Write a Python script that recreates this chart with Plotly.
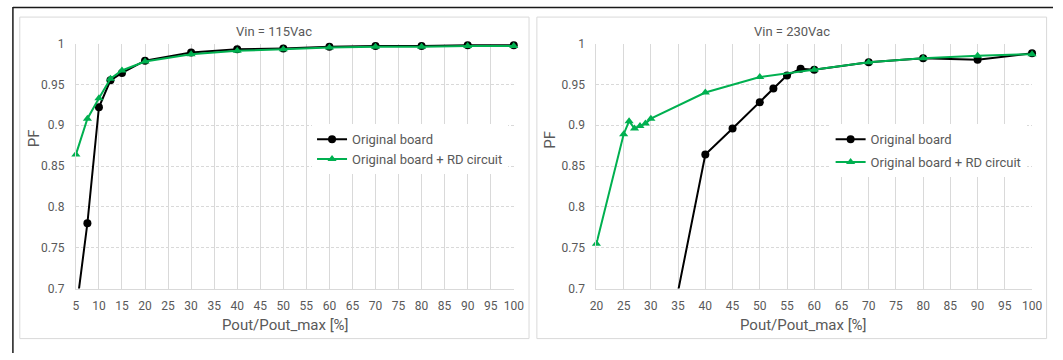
import plotly.graph_objects as go

# ---------------- data ----------------
x115_orig = [5, 7.5, 10, 12.5, 15, 20, 30, 40, 50, 60, 70, 80, 90, 100]
pf115_orig = [0.67, 0.78, 0.922, 0.955, 0.964, 0.979, 0.989, 0.993, 0.994, 0.996, 0.997, 0.997, 0.998, 0.998]
x115_rd = [5, 7.5, 10, 12.5, 15, 20, 30, 40, 50, 60, 70, 80, 90, 100]
pf115_rd = [0.864, 0.908, 0.933, 0.957, 0.967, 0.978, 0.987, 0.991, 0.993, 0.995, 0.996, 0.996, 0.997, 0.997]

x230_orig = [30, 40, 45, 50, 52.5, 55, 57.5, 60, 70, 80, 90, 100]
pf230_orig = [0.53, 0.864, 0.896, 0.928, 0.945, 0.961, 0.969, 0.968, 0.977, 0.982, 0.980, 0.988]
x230_rd = [20, 25, 26, 27, 28, 29, 30, 40, 50, 60, 70, 80, 90, 100]
pf230_rd = [0.755, 0.889, 0.905, 0.896, 0.899, 0.902, 0.908, 0.940, 0.959, 0.968, 0.977, 0.982, 0.985, 0.987]

series_names = ["Original board", "Original board + RD circuit"]
panel_titles = ["Vin = 115Vac", "Vin = 230Vac"]
x_title = "Pout/Pout_max [%]"
y_title = "PF"
y_tickvals = [0.7, 0.75, 0.8, 0.85, 0.9, 0.95, 1.0]
y_ticktext = ["0.7", "0.75", "0.8", "0.85", "0.9", "0.95", "1"]

# ---------------- styling ----------------
W, H = 1063, 360
FONT = "Roboto"
TXT = "#595959"
GRID = "#D9D9D9"
GREEN = "#00B050"


def fx(p):
    return p / W


def fy(p):
    return 1 - p / H


fig = go.Figure()


def add_pair(xo, yo, xr, yr, xa, ya, leg):
    fig.add_trace(go.Scatter(
        x=xo, y=yo, name=series_names[0], mode="lines+markers",
        line=dict(color="black", width=2),
        marker=dict(symbol="circle", size=8, color="black"),
        cliponaxis=False, xaxis=xa, yaxis=ya, legend=leg,
        legendgroup=leg + "a"))
    fig.add_trace(go.Scatter(
        x=xr, y=yr, name=series_names[1], mode="lines+markers",
        line=dict(color=GREEN, width=2),
        marker=dict(symbol="triangle-up", size=8, color=GREEN),
        cliponaxis=False, xaxis=xa, yaxis=ya, legend=leg,
        legendgroup=leg + "b"))


add_pair(x115_orig, pf115_orig, x115_rd, pf115_rd, "x", "y", "legend")
add_pair(x230_orig, pf230_orig, x230_rd, pf230_rd, "x2", "y2", "legend2")

ydom = [fy(293), fy(38)]
xcommon = dict(showgrid=True, gridcolor=GRID, gridwidth=1, showline=True,
               linecolor=GRID, linewidth=1, zeroline=False, ticks="",
               dtick=5, tickfont=dict(family=FONT, size=12, color=TXT),
               ticklabelstandoff=6, fixedrange=True)
ycommon = dict(showgrid=True, gridcolor=GRID, gridwidth=1, griddash="3px,2px",
               showline=True, linecolor=GRID, linewidth=1, zeroline=False,
               ticks="", tickvals=y_tickvals, ticktext=y_ticktext, range=[0.7, 1.0],
               tickfont=dict(family=FONT, size=12, color=TXT),
               ticklabelstandoff=8, domain=ydom, fixedrange=True)

legcommon = dict(xanchor="left", yanchor="top", bgcolor="white", borderwidth=0,
                 font=dict(family=FONT, size=13, color=TXT), itemwidth=30,
                 traceorder="grouped")

shapes = [
    # panel frames
    dict(type="rect", xref="paper", yref="paper", x0=fx(13), x1=fx(530.5),
         y0=fy(345), y1=fy(10.5), line=dict(color=GRID, width=1), layer="below"),
    dict(type="rect", xref="paper", yref="paper", x0=fx(538.5), x1=fx(1056.5),
         y0=fy(345), y1=fy(10.5), line=dict(color=GRID, width=1), layer="below"),
    # outer dark frame lines (top and left)
    dict(type="line", xref="paper", yref="paper", x0=fx(6), x1=1,
         y0=fy(0.5), y1=fy(0.5), line=dict(color="#1a1a1a", width=1.5)),
    dict(type="line", xref="paper", yref="paper", x0=fx(6), x1=fx(6),
         y0=0, y1=1, line=dict(color="#1a1a1a", width=1.5)),
]

ann = []
for cx, t in [(271.5, panel_titles[0]), (797.5, panel_titles[1])]:
    ann.append(dict(text=t, x=fx(cx), y=fy(26), xref="paper", yref="paper",
                    showarrow=False, xanchor="center", yanchor="middle",
                    font=dict(family=FONT, size=13, color=TXT)))
for cx in [283, 809]:
    ann.append(dict(text=x_title, x=fx(cx), y=fy(331), xref="paper", yref="paper",
                    showarrow=False, xanchor="center", yanchor="middle",
                    font=dict(family=FONT, size=15, color=TXT)))
for cx, cy in [(27, 137), (551, 138)]:
    ann.append(dict(text=y_title, x=fx(cx), y=fy(cy), xref="paper", yref="paper",
                    showarrow=False, xanchor="center", yanchor="middle", textangle=-90,
                    font=dict(family=FONT, size=15, color=TXT)))

fig.update_layout(
    width=W, height=H, margin=dict(l=0, r=0, t=0, b=0),
    paper_bgcolor="white", plot_bgcolor="rgba(0,0,0,0)",
    font=dict(family=FONT, color=TXT),
    xaxis=dict(xcommon, domain=[fx(70), fx(515)], range=[5, 100], tick0=5, anchor="y"),
    yaxis=dict(ycommon, anchor="x"),
    xaxis2=dict(xcommon, domain=[fx(599), fx(1041.7)], range=[20, 100], tick0=20, anchor="y2"),
    yaxis2=dict(ycommon, anchor="x2"),
    legend=dict(legcommon, x=fx(310), y=fy(122), tracegroupgap=0),
    legend2=dict(legcommon, x=fx(837), y=fy(122), tracegroupgap=3),
    shapes=shapes,
    annotations=ann,
    showlegend=True,
    hovermode=False,
)

fig.write_html("out.html", config={"displayModeBar": False})
